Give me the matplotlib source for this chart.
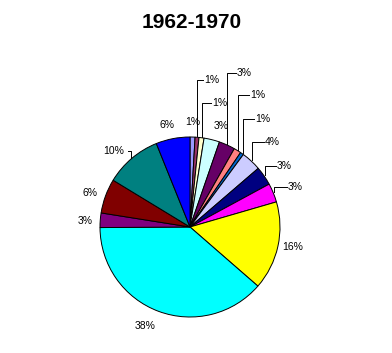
import matplotlib.pyplot as plt
import numpy as np

# data, clockwise from 12 o'clock
shares = [0.9, 0.7, 0.9, 2.8, 2.9, 1.3, 0.6, 3.6, 3.4, 3.4, 15.9, 38.5, 2.6, 6.2, 10.2, 6.1]
colors = ['#9999FF', '#993366', '#FFFFCC', '#CCFFFF', '#660066', '#FF8080',
          '#0066CC', '#CCCCFF', '#000080', '#FF00FF', '#FFFF00', '#00FFFF',
          '#800080', '#800000', '#008080', '#0000FF']
title = '1962-1970'

W, H = 392, 353
cx, cy, R = 190, H - 227, 90

# label anchors in pixels (x, y from top), horizontal alignment, leader line or not
label_pos = [(193, 122, 'center', False), (204, 80, 'left', True), (212, 103, 'left', True),
             (221, 126, 'center', False), (237, 73, 'left', True), (250, 95, 'left', True),
             (255, 119, 'left', True), (265, 142, 'left', True), (277, 166, 'left', True),
             (288, 187, 'left', True), (293, 247, 'center', False), (145, 326, 'center', False),
             (85, 221, 'center', False), (90, 193, 'center', False), (124, 151, 'right', True),
             (167, 125, 'center', False)]

plt.rcParams['font.family'] = ['Liberation Sans', 'DejaVu Sans']
fig = plt.figure(figsize=(W / 100, H / 100), dpi=100)
ax = fig.add_axes([0, 0, 1, 1])

wedges, _ = ax.pie(shares, colors=colors, startangle=90, counterclock=False,
                   center=(cx, cy), radius=R,
                   wedgeprops=dict(edgecolor='black', linewidth=0.7))
ax.set_xlim(0, W)
ax.set_ylim(0, H)
ax.set_aspect('equal')
ax.axis('off')

total = sum(shares)
for w, v, (lx, ly, ha, lead) in zip(wedges, shares, label_pos):
    txt = '%d%%' % round(v / total * 100)
    ty = H - ly
    ax.text(lx, ty, txt, ha=ha, va='center', fontsize=7.5)
    if lead:
        mid = np.deg2rad((w.theta1 + w.theta2) / 2)
        ex = cx + (R + 1) * np.cos(mid)
        ey = cy + (R + 1) * np.sin(mid)
        endx = lx - 1 if ha == 'left' else lx + 4
        ax.plot([ex, ex, endx], [ey, ty, ty], color='black', linewidth=0.7)

ax.text(192, H - 23, title, ha='center', va='center', fontsize=15, fontweight='bold')

fig.savefig('out.png', dpi=100)
